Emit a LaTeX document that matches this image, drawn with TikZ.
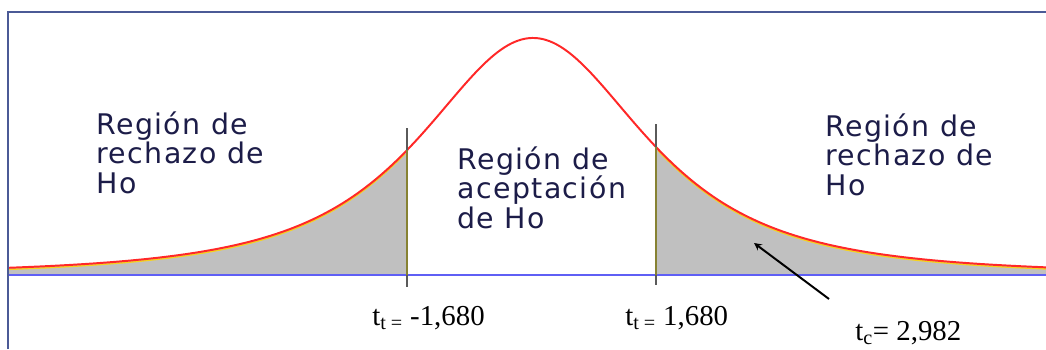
\documentclass[tikz,border=0pt]{standalone}
\usepackage{fontspec}
\newfontfamily\regionfont[LetterSpace=5]{DejaVu Sans}
\newfontfamily\valuefont{Liberation Serif}
\definecolor{regiontext}{RGB}{28,28,72}
\definecolor{tailgray}{RGB}{192,192,192}
\definecolor{curvered}{RGB}{255,40,40}
\definecolor{curveyellow}{RGB}{245,210,30}
\definecolor{baseblue}{RGB}{95,95,245}
\definecolor{cutgray}{RGB}{90,90,90}
\definecolor{cutolive}{RGB}{135,130,50}
\definecolor{framecol}{RGB}{75,90,150}

\begin{document}
\begin{tikzpicture}[x=0.025cm, y=-0.025cm,
    declare function={dens(\t)=275-237*(1+((\t-533)/122)^2/2)^(-1.5);},
    region/.style={anchor=base west, align=left, inner sep=0pt, text=regiontext,
        font=\regionfont\fontsize{20.2}{20.8}\selectfont},
    tvalue/.style={anchor=base west, inner sep=0pt,
        font=\valuefont\fontsize{20.5}{24}\selectfont}]
        \useasboundingbox (0,0) rectangle (1046,349);
        \fill[tailgray] (8,275) -- plot[domain=8:407, samples=80] (\x,{dens(\x)}) -- (407,275) -- cycle;
        \fill[tailgray] (656,275) -- plot[domain=656:1046, samples=80] (\x,{dens(\x)}) -- (1046,275) -- cycle;
        \draw[curveyellow, line width=1pt] plot[domain=8:405, samples=80] (\x,{dens(\x)+1.6});
        \draw[curveyellow, line width=1pt] plot[domain=658:1046, samples=80] (\x,{dens(\x)+1.6});
        \draw[curvered, line width=1.4pt] plot[domain=8:1046, samples=300] (\x,{dens(\x)});
        \draw[baseblue, line width=1.4pt] (8,275) -- (1046,275);
        \draw[cutgray, line width=0.9pt] (407,128) -- (407,287);
        \draw[cutolive, line width=0.9pt] (407,{dens(407)}) -- (407,275);
        \draw[cutgray, line width=0.9pt] (656,124) -- (656,285);
        \draw[cutolive, line width=0.9pt] (656,{dens(656)}) -- (656,275);
        \draw[framecol, line width=1.4pt] (8,349) -- (8,12) -- (1046,12);
        \node[region] (rechazoizq) at (96,193) {Región de\\rechazo de\\Ho};
        \node[region] (aceptacion) at (457,228) {Región de\\aceptación\\de Ho};
        \node[region] (rechazoder) at (825,195) {Región de\\rechazo de\\Ho};
        \node[tvalue] (ttneg) at (372,325) {t\textsubscript{t =} -1,680};
        \node[tvalue] (ttpos) at (625,325) {t\textsubscript{t =} 1,680};
        \node[tvalue] (tc) at (855,340) {t\textsubscript{c}= 2,982};
        \coordinate (tctail) at (829,299);
        \coordinate (tctip) at (754,243);
        \draw[line width=1.4pt, black, -stealth] (tctail) -- (tctip);
    \end{tikzpicture}
\end{document}
